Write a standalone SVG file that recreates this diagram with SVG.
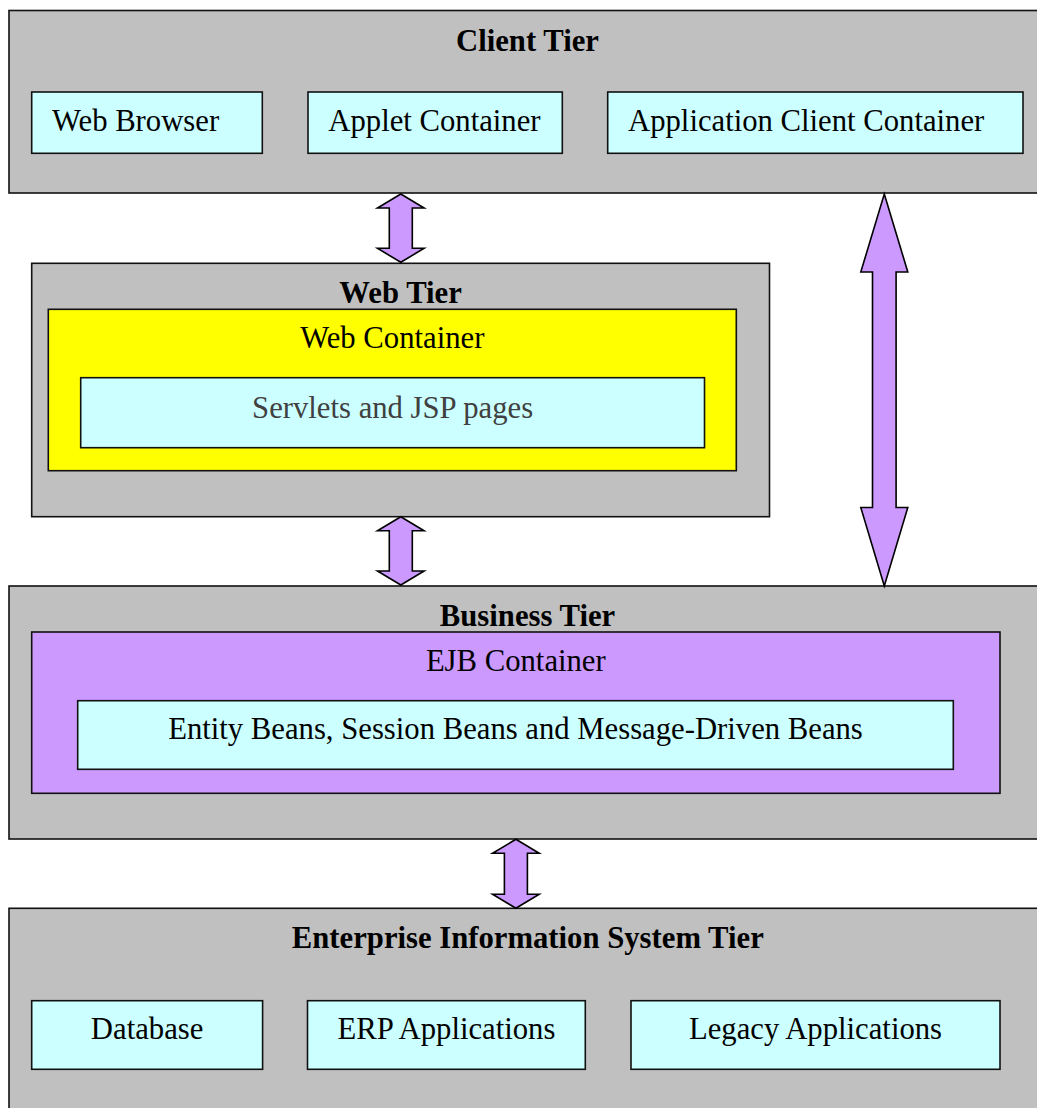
<svg xmlns="http://www.w3.org/2000/svg" width="1037" height="1108" viewBox="0 0 1037 1108">
  <style>
    .tier { fill: #C0C0C0; stroke: #111; stroke-width: 1.6; }
    .box { fill: #CCFFFF; stroke: #111; stroke-width: 1.6; }
    .web { fill: #FFFF00; stroke: #111; stroke-width: 1.6; }
    .ejb { fill: #CC99FF; stroke: #111; stroke-width: 1.6; }
    .arrow { fill: #CC99FF; stroke: #000; stroke-width: 1.6; stroke-linejoin: miter; }
    text { font-family: "Liberation Serif", "Times New Roman", serif; font-size: 30.7px; fill: #000; }
    .title { font-weight: bold; text-anchor: middle; }
    .mid { text-anchor: middle; }
    .dim { fill: #404040; }
  </style>

  <!-- Client tier -->
  <g id="client-tier">
    <rect class="tier" x="9" y="10.5" width="1040" height="182.5"/>
    <text class="title" x="527.5" y="50.5">Client Tier</text>
  </g>
  <g id="web-browser">
    <rect class="box" x="31.7" y="92" width="230.6" height="61.3"/>
    <text x="52" y="131">Web Browser</text>
  </g>
  <g id="applet-container">
    <rect class="box" x="308" y="92" width="254.3" height="61.3"/>
    <text x="328.3" y="131">Applet Container</text>
  </g>
  <g id="application-client-container">
    <rect class="box" x="607.7" y="92" width="415.3" height="61.3"/>
    <text x="628" y="131">Application Client Container</text>
  </g>

  <!-- Web tier -->
  <g id="web-tier">
    <rect class="tier" x="31.7" y="263.3" width="737.8" height="253.4"/>
    <text class="title" x="400.6" y="302.7">Web Tier</text>
  </g>
  <g id="web-container">
    <rect class="web" x="48.3" y="309.3" width="688" height="161.4"/>
    <text class="mid" x="392.3" y="348.3">Web Container</text>
  </g>
  <g id="servlets-jsp">
    <rect class="box" x="80.7" y="377.7" width="623.8" height="70"/>
    <text class="mid dim" x="392.6" y="417.7">Servlets and JSP pages</text>
  </g>

  <!-- Business tier -->
  <g id="business-tier">
    <rect class="tier" x="9" y="586" width="1040" height="253"/>
    <text class="title" x="527.5" y="626">Business Tier</text>
  </g>
  <g id="ejb-container">
    <rect class="ejb" x="31.7" y="632" width="968.3" height="161.3"/>
    <text class="mid" x="515.8" y="671">EJB Container</text>
  </g>
  <g id="beans">
    <rect class="box" x="77.7" y="700.7" width="875.6" height="68.6"/>
    <text class="mid" x="515.5" y="739.3">Entity Beans, Session Beans and Message-Driven Beans</text>
  </g>

  <!-- Enterprise Information System tier -->
  <g id="eis-tier">
    <rect class="tier" x="9" y="908.3" width="1040" height="210"/>
    <text class="title" x="527.8" y="947.7">Enterprise Information System Tier</text>
  </g>
  <g id="database">
    <rect class="box" x="31.7" y="1000.7" width="230.9" height="68.6"/>
    <text class="mid" x="147.1" y="1038.5">Database</text>
  </g>
  <g id="erp-applications">
    <rect class="box" x="307.5" y="1000.7" width="277.8" height="68.6"/>
    <text class="mid" x="446.4" y="1038.5">ERP Applications</text>
  </g>
  <g id="legacy-applications">
    <rect class="box" x="631" y="1000.7" width="369" height="68.6"/>
    <text class="mid" x="815.5" y="1038.5">Legacy Applications</text>
  </g>

  <!-- Two-way block arrows between tiers -->
  <g id="connectors">
    <polygon class="arrow" points="400.8,194 424.1,208 412.3,208 412.3,248.3 424.1,248.3 400.8,262.3 377.5,248.3 389.3,248.3 389.3,208 377.5,208"/>
    <polygon class="arrow" points="400.8,516.7 424.1,530.7 412.3,530.7 412.3,571 424.1,571 400.8,585 377.5,571 389.3,571 389.3,530.7 377.5,530.7"/>
    <polygon class="arrow" points="515.9,839.3 539.2,853.3 527.4,853.3 527.4,894.3 539.2,894.3 515.9,908.3 492.6,894.3 504.4,894.3 504.4,853.3 492.6,853.3"/>
    <polygon class="arrow" points="884.3,194 907.8,272 896.1,272 896.1,507.5 907.8,507.5 884.3,586 860.8,507.5 872.5,507.5 872.5,272 860.8,272"/>
  </g>
</svg>
